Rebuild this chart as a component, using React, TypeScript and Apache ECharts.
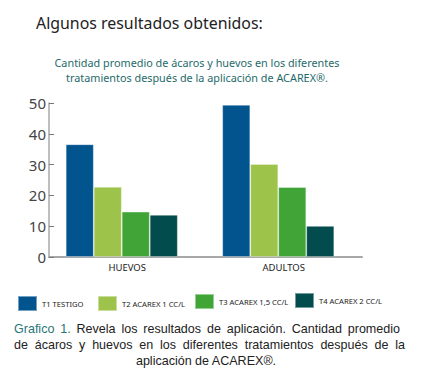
import React, { useEffect, useRef } from "react";
import * as echarts from "echarts";

const categories = ["HUEVOS", "ADULTOS"];
const seriesNames = ["T1 TESTIGO", "T2 ACAREX 1 CC/L", "T3 ACAREX 1,5 CC/L", "T4 ACAREX 2 CC/L"];
const t1Values = [36.6, 49.4];
const t2Values = [22.8, 30.2];
const t3Values = [14.7, 22.7];
const t4Values = [13.7, 10.1];
const yTicks = [0, 10, 20, 30, 40, 50];

const titleText = "Algunos resultados obtenidos:";
const subtitleLines = [
  "Cantidad promedio de ácaros y huevos en los diferentes",
  "tratamientos después de la aplicación de ACAREX®.",
];
const captionLines = [
  "Grafico 1. Revela los resultados de aplicación. Cantidad promedio",
  "de ácaros y huevos en los diferentes tratamientos después de la",
  "aplicación de ACAREX®.",
];

const colors = ["#02548f", "#9dc34b", "#40a436", "#034c4d"];
const FAMILY = "'Noto Sans', 'DejaVu Sans', sans-serif";
const CAP_FAMILY = "'Liberation Sans', Arial, sans-serif";

let ctx: CanvasRenderingContext2D | null = null;
function textWidth(t: string, size: number, family: string) {
  if (!ctx) ctx = document.createElement("canvas").getContext("2d");
  if (!ctx) return t.length * size * 0.55;
  ctx.font = `${size}px ${family}`;
  return ctx.measureText(t).width;
}
function fitSize(t: string, family: string, target: number) {
  return (100 * target) / textWidth(t, 100, family);
}

export default function App() {
  const ref = useRef<HTMLDivElement>(null);
  useEffect(() => {
    if (!ref.current) return;
    const chart = echarts.init(ref.current, undefined, { renderer: "svg" });

    const graphics: any[] = [];
    const titleSize = fitSize(titleText, FAMILY, 227);
    graphics.push({
      type: "text",
      x: 36,
      y: 23,
      style: { text: titleText, fontSize: titleSize, lineHeight: titleSize * 1.1, fontFamily: FAMILY, fill: "#222", verticalAlign: "middle" },
    });
    const subSize = fitSize(subtitleLines[0], FAMILY, 285);
    subtitleLines.forEach((line, i) => {
      graphics.push({
        type: "text",
        x: 197,
        y: 62 + i * 15,
        style: { text: line, fontSize: subSize, lineHeight: 13, fontFamily: FAMILY, fill: "#1f6a6a", align: "center", verticalAlign: "middle" },
      });
    });

    const capSize = Math.min(fitSize(captionLines[2], CAP_FAMILY, 141), 13.5);
    const capTargets = [[14, 400], [14, 405]];
    const capY = [329, 345, 361];
    [0, 1].forEach((li) => {
      const words = captionLines[li].split(" ");
      const widths = words.map((w) => textWidth(w, capSize, CAP_FAMILY));
      const sum = widths.reduce((a, b) => a + b, 0);
      const [x0, x1] = capTargets[li];
      const gap = (x1 - x0 - sum) / (words.length - 1);
      let x = x0;
      words.forEach((w, wi) => {
        graphics.push({
          type: "text",
          x,
          y: capY[li],
          style: {
            text: w,
            fontSize: capSize,
            lineHeight: 14,
            fontFamily: CAP_FAMILY,
            fill: li === 0 && wi < 2 ? "#2a7676" : "#222",
            verticalAlign: "middle",
          },
        });
        x += widths[wi] + gap;
      });
    });
    graphics.push({
      type: "text",
      x: 206,
      y: capY[2],
      style: { text: captionLines[2], fontSize: capSize, lineHeight: 14, fontFamily: CAP_FAMILY, fill: "#222", align: "center", verticalAlign: "middle" },
    });

    const legendSize = fitSize(seriesNames[0], FAMILY, 41.5);
    const legendLeft = [17, 97, 194, 294];
    const legendTop = [295, 295, 293, 292];
    const legends = seriesNames.map((name, i) => ({
      data: [name],
      left: legendLeft[i],
      top: legendTop[i],
      padding: 0,
      icon: "rect",
      itemWidth: 19,
      itemHeight: 15,
      selectedMode: false,
      textStyle: { fontSize: legendSize, fontFamily: FAMILY, color: "#222" },
    }));

    const allValues = [t1Values, t2Values, t3Values, t4Values];
    const series: any[] = allValues.map((vals, i) => ({
      name: seriesNames[i],
      type: "bar",
      data: vals,
      barWidth: 28,
      barGap: "0%",
      itemStyle: { color: colors[i], borderColor: "rgba(255,255,255,0.45)", borderWidth: 0.8 },
    }));
    series.push({
      name: "spacer",
      type: "bar",
      data: [],
      barWidth: 11,
      barGap: "0%",
      silent: true,
      itemStyle: { color: "transparent" },
    });

    chart.setOption({
      animation: false,
      color: colors,
      grid: { left: 49, right: 76, top: 103, bottom: 120, containLabel: false },
      legend: legends,
      graphic: graphics,
      xAxis: {
        type: "category",
        data: categories,
        axisLine: { lineStyle: { color: "#a8a8a8", width: 2 } },
        axisTick: { inside: true, length: 4, lineStyle: { color: "#777" } },
        axisLabel: { fontSize: 9.5, fontFamily: FAMILY, color: "#222", margin: 5 },
      },
      yAxis: {
        type: "value",
        min: yTicks[0],
        max: yTicks[yTicks.length - 1],
        interval: 10,
        splitLine: { show: false },
        axisLine: { show: true, lineStyle: { color: "#a8a8a8", width: 1.5 } },
        axisTick: { show: true, inside: true, length: 5, lineStyle: { color: "#777" } },
        axisLabel: { fontSize: 15, fontFamily: FAMILY, color: "#444", margin: 3 },
      },
      series,
    });
    return () => chart.dispose();
  }, []);
  return <div ref={ref} style={{ width: 438, height: 377, position: "absolute", left: 0, top: 0 }} />;
}
